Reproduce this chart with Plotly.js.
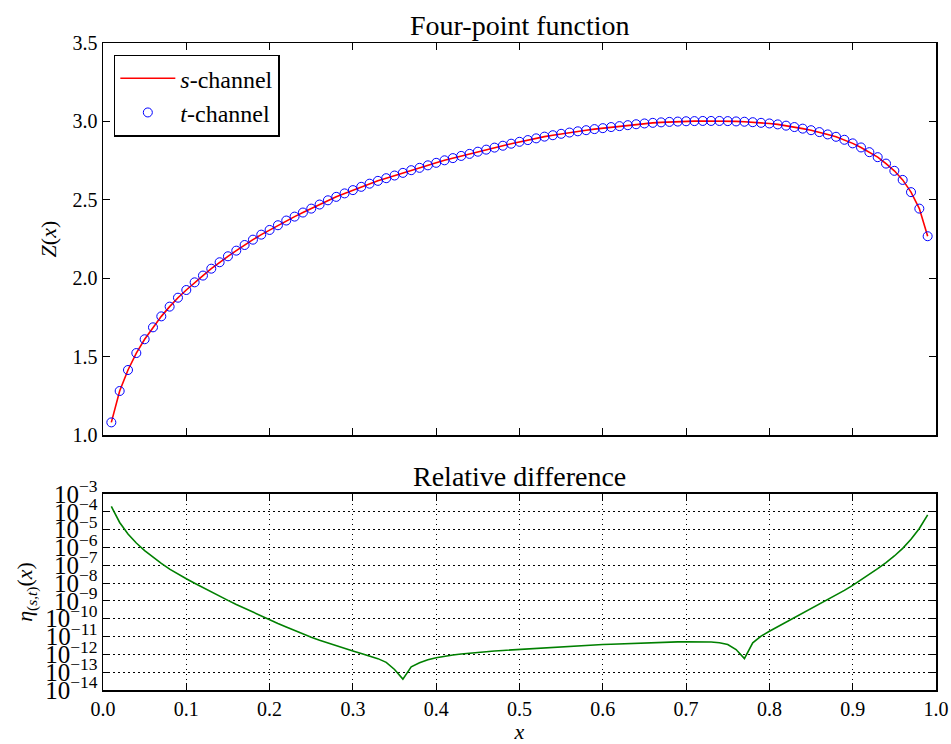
<!DOCTYPE html>
<html>
<head>
<meta charset="utf-8">
<script src="https://cdn.plot.ly/plotly-3.0.1.min.js"></script>
<style>html,body{margin:0;padding:0;background:#fff;}#chart{width:951px;height:744px;}</style>
</head>
<body>
<div id="chart"></div>
<script>
// ---- data ----
const xVals = [0.01,0.02,0.03,0.04,0.05,0.06,0.07,0.08,0.09,0.10,
  0.11,0.12,0.13,0.14,0.15,0.16,0.17,0.18,0.19,0.20,
  0.21,0.22,0.23,0.24,0.25,0.26,0.27,0.28,0.29,0.30,
  0.31,0.32,0.33,0.34,0.35,0.36,0.37,0.38,0.39,0.40,
  0.41,0.42,0.43,0.44,0.45,0.46,0.47,0.48,0.49,0.50,
  0.51,0.52,0.53,0.54,0.55,0.56,0.57,0.58,0.59,0.60,
  0.61,0.62,0.63,0.64,0.65,0.66,0.67,0.68,0.69,0.70,
  0.71,0.72,0.73,0.74,0.75,0.76,0.77,0.78,0.79,0.80,
  0.81,0.82,0.83,0.84,0.85,0.86,0.87,0.88,0.89,0.90,
  0.91,0.92,0.93,0.94,0.95,0.96,0.97,0.98,0.99];

const zS = [1.081,1.281,1.415,1.523,1.611,1.687,1.757,1.819,1.876,1.925,
  1.974,2.017,2.061,2.102,2.140,2.176,2.212,2.246,2.278,2.308,
  2.338,2.368,2.393,2.419,2.444,2.470,2.497,2.519,2.541,2.562,
  2.583,2.603,2.621,2.638,2.655,2.672,2.689,2.704,2.720,2.736,
  2.752,2.766,2.780,2.793,2.807,2.820,2.833,2.845,2.858,2.870,
  2.881,2.892,2.903,2.912,2.921,2.929,2.937,2.944,2.951,2.957,
  2.964,2.970,2.976,2.982,2.987,2.991,2.994,2.997,2.999,3.001,
  3.002,3.003,3.003,3.003,3.002,3.000,2.998,2.995,2.991,2.987,
  2.981,2.973,2.964,2.954,2.944,2.932,2.917,2.902,2.883,2.860,
  2.834,2.804,2.772,2.731,2.685,2.627,2.549,2.444,2.268];

const zT = zS.slice();

// log10 of relative difference
const etaLog10 = [-3.70,-4.60,-5.25,-5.75,-6.18,-6.56,-6.90,-7.22,-7.50,-7.76,
  -8.01,-8.26,-8.50,-8.74,-8.97,-9.20,-9.42,-9.64,-9.85,-10.06,
  -10.27,-10.47,-10.67,-10.86,-11.04,-11.21,-11.37,-11.52,-11.67,-11.81,
  -11.95,-12.09,-12.24,-12.45,-12.85,-13.39,-12.70,-12.47,-12.30,-12.19,
  -12.10,-12.04,-11.98,-11.93,-11.89,-11.85,-11.81,-11.78,-11.75,-11.72,
  -11.69,-11.66,-11.63,-11.60,-11.58,-11.55,-11.52,-11.50,-11.47,-11.45,
  -11.43,-11.41,-11.39,-11.37,-11.35,-11.34,-11.32,-11.31,-11.30,-11.30,
  -11.29,-11.29,-11.31,-11.35,-11.45,-11.73,-12.24,-11.35,-10.98,-10.70,
  -10.45,-10.19,-9.95,-9.70,-9.44,-9.20,-8.93,-8.67,-8.41,-8.13,
  -7.83,-7.53,-7.19,-6.85,-6.48,-6.05,-5.54,-4.94,-4.17];

const xTicks = [0.0,0.1,0.2,0.3,0.4,0.5,0.6,0.7,0.8,0.9,1.0];
const zTicks = [1.0,1.5,2.0,2.5,3.0,3.5];

const FONT = "Liberation Serif";

const traces = [
  {x: xVals, y: zS, type: 'scatter', mode: 'lines', name: '<i>s</i>-channel',
   line: {color: '#ff0000', width: 1.6}, xaxis: 'x', yaxis: 'y'},
  {x: xVals, y: zT, type: 'scatter', mode: 'markers', name: '<i>t</i>-channel',
   marker: {symbol: 'circle-open', size: 9, color: '#0000ff', line: {width: 1, color: '#0000ff'}},
   xaxis: 'x', yaxis: 'y'},
  {x: xVals, y: etaLog10.map(v => Math.pow(10, v)), type: 'scatter', mode: 'lines',
   line: {color: '#008000', width: 1.6}, showlegend: false, xaxis: 'x2', yaxis: 'y2'}
];

const axisCommon = {
  showline: true, linecolor: '#000', linewidth: 1.5, mirror: 'ticks',
  ticks: 'inside', ticklen: 7, tickwidth: 1, tickcolor: '#000',
  zeroline: false, tickfont: {family: FONT, size: 20, color: '#000'}
};

const layout = {
  width: 951, height: 744,
  margin: {l: 103, r: 15, t: 43, b: 54},
  paper_bgcolor: '#fff', plot_bgcolor: '#fff',
  font: {family: FONT, color: '#000', size: 20},
  showlegend: true,
  legend: {x: 0.013, y: 0.982, xanchor: 'left', yanchor: 'top', xref: 'paper', yref: 'paper',
    bgcolor: '#fff', bordercolor: '#000', borderwidth: 1.5, itemwidth: 55,
    font: {family: FONT, size: 24, color: '#000'}},
  xaxis: Object.assign({}, axisCommon, {
    domain: [0, 1], anchor: 'y', range: [0, 1], tickvals: xTicks, showticklabels: false,
    showgrid: false}),
  yaxis: Object.assign({}, axisCommon, {
    domain: [0.394, 1], anchor: 'x', range: [1.0, 3.5], tickvals: zTicks, tickformat: '.1f',
    showgrid: false,
    title: {text: '<i>Z</i>(<i>x</i>)', font: {family: FONT, size: 22, color: '#000'}, standoff: 10}}),
  xaxis2: Object.assign({}, axisCommon, {
    domain: [0, 1], anchor: 'y2', range: [0, 1], tickvals: xTicks, tickformat: '.1f',
    showgrid: true, gridcolor: '#000', gridwidth: 1, griddash: '1.5px,3.5px',
    title: {text: '<i>x</i>', font: {family: FONT, size: 22, color: '#000'}, standoff: 10}}),
  yaxis2: Object.assign({}, axisCommon, {
    domain: [0, 0.303], anchor: 'x2', type: 'log', range: [-14, -3], dtick: 1,
    exponentformat: 'power', showexponent: 'all',
    showgrid: true, gridcolor: '#000', gridwidth: 1, griddash: '1.5px,3.5px',
    title: {text: '<i>η</i><sub>(<i>s</i>,<i>t</i>)</sub>(<i>x</i>)', font: {family: FONT, size: 22, color: '#000'}, standoff: 6}}),
  annotations: [
    {text: 'Four-point function', xref: 'paper', yref: 'paper', x: 0.5, y: 1,
     xanchor: 'center', yanchor: 'bottom', yshift: 0, showarrow: false,
     font: {family: FONT, size: 28, color: '#000'}},
    {text: 'Relative difference', xref: 'paper', yref: 'paper', x: 0.5, y: 0.303,
     xanchor: 'center', yanchor: 'bottom', yshift: 0, showarrow: false,
     font: {family: FONT, size: 28, color: '#000'}}
  ]
};

Plotly.newPlot('chart', traces, layout, {displayModeBar: false, staticPlot: true});
</script>
</body>
</html>
